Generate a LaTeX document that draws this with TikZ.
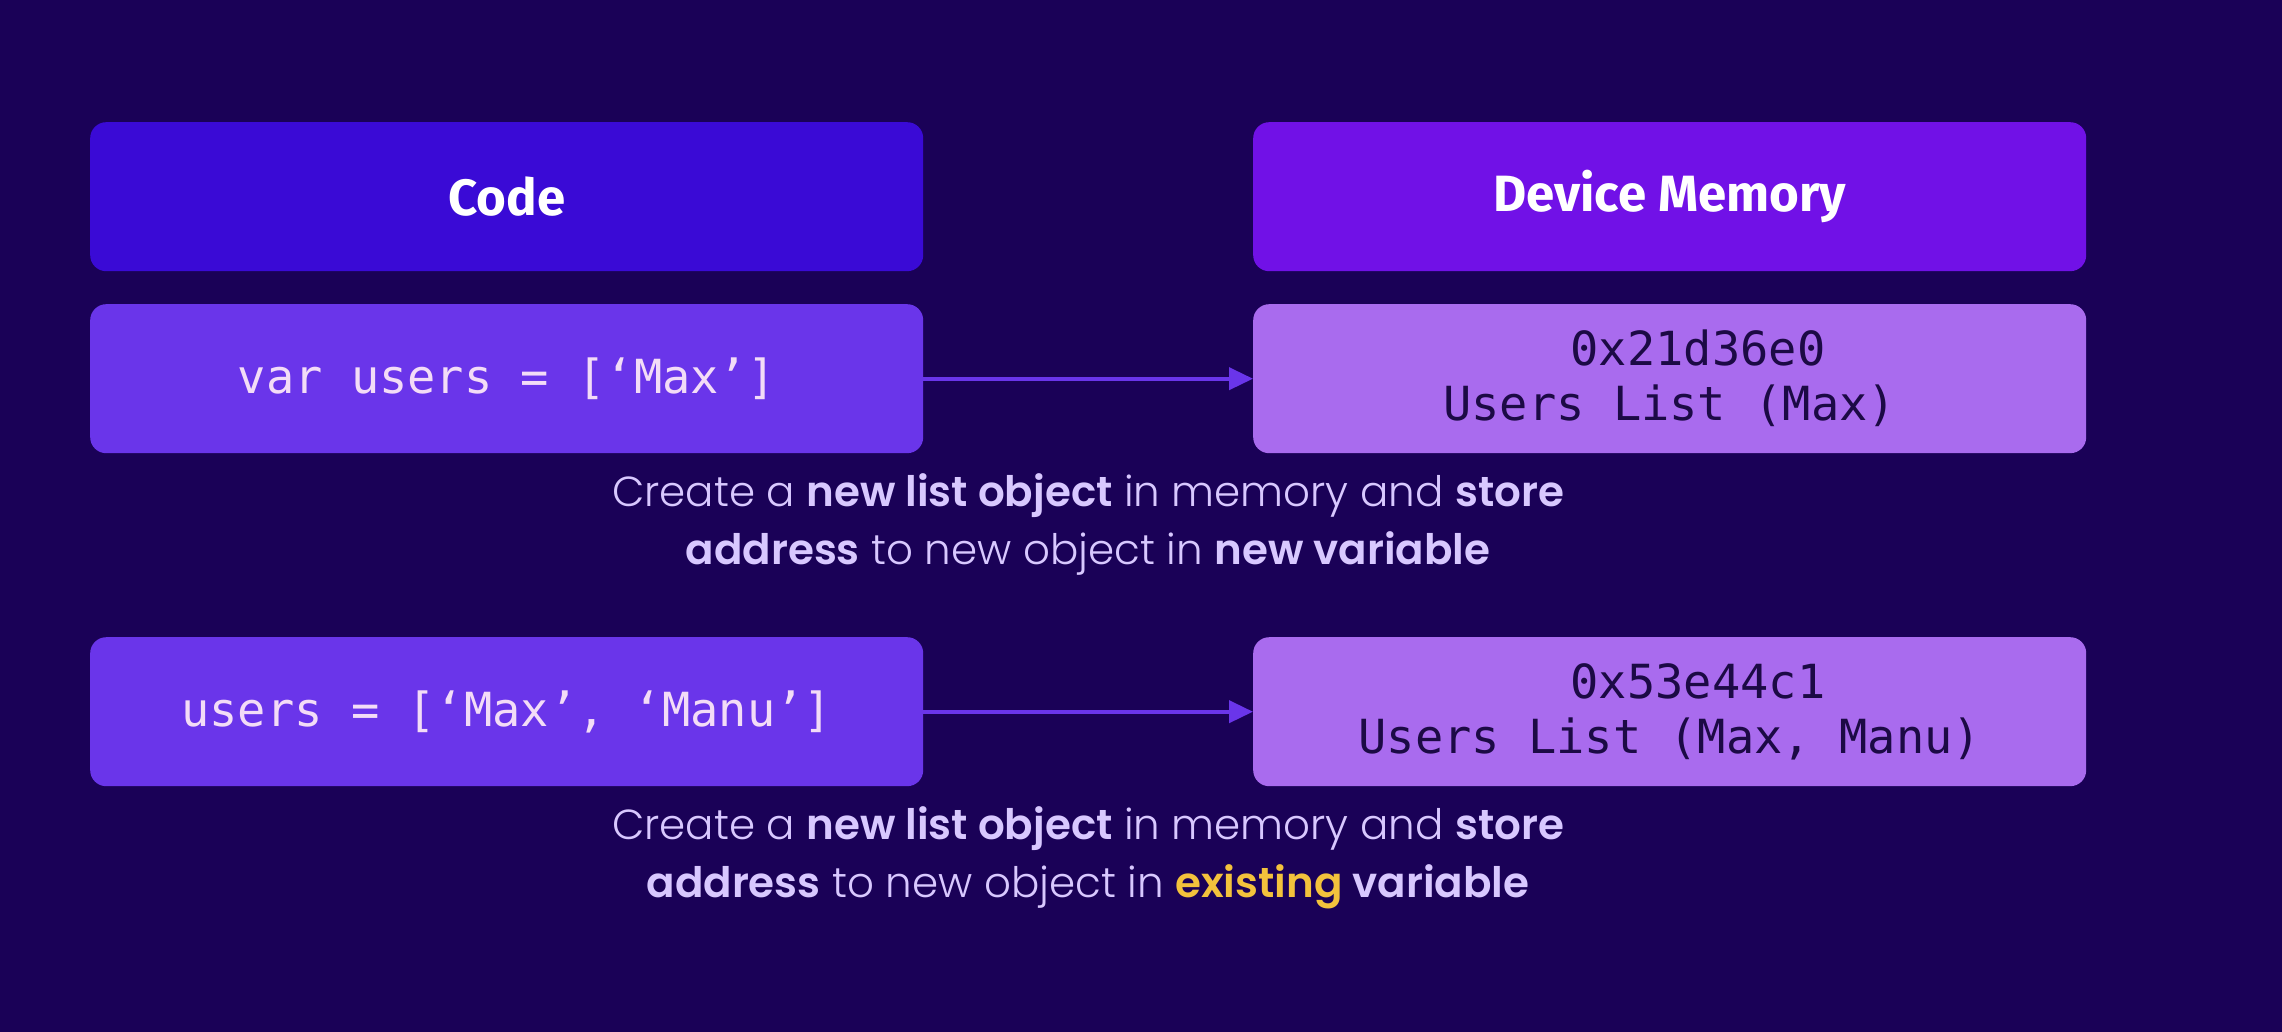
\documentclass[tikz,border=0pt]{standalone}
\usepackage{fontspec}
\usetikzlibrary{arrows.meta}
\newfontfamily\capfont{Poppins Light}[BoldFont={Poppins SemiBold}]
\newfontfamily\headfont{Fira Sans}
\newfontfamily\codefont{DejaVu Sans Mono}

\definecolor{bgcol}{HTML}{1A0157}
\definecolor{headcode}{HTML}{3A0AD6}
\definecolor{headmem}{HTML}{7111E7}
\definecolor{codebox}{HTML}{6A35EA}
\definecolor{membox}{HTML}{A96BEE}
\definecolor{codetxt}{HTML}{F3DCF7}
\definecolor{memtxt}{HTML}{1C0A45}
\definecolor{captxt}{HTML}{D8C8FF}
\definecolor{hilite}{HTML}{F3C23C}

\begin{document}
\begin{tikzpicture}[x=1pt,y=-1pt,
  panel/.style={anchor=north west, minimum width=833pt, minimum height=149pt,
    rounded corners=16pt, inner sep=0pt},
  header/.style={panel, text=white, font=\headfont\bfseries\fontsize{51}{55}\selectfont},
  codecell/.style={panel, fill=codebox, text=codetxt, font=\codefont\fontsize{47}{55}\selectfont},
  memcell/.style={panel, fill=membox, text=memtxt, align=center, font=\codefont\fontsize{47}{55}\selectfont},
  caption/.style={text=captxt, align=center, font=\capfont\fontsize{42}{58}\selectfont},
  link/.style={draw=codebox, line width=4pt, -{Triangle[length=24pt,width=22pt]}}]

  % background
  \fill[bgcol] (0,0) rectangle (2282,1032);
  \useasboundingbox (0,0) rectangle (2282,1032);

  % column headers
  \node[header, fill=headcode] (hcode) at (90,122) {Code};
  \node[header, fill=headmem] (hmem) at (1253,122) {Device Memory};

  % first assignment
  \node[codecell] (c1) at (90,304) {var users = [‘Max’]};
  \node[memcell] (m1) at (1253,304) {\phantom{00}0x21d36e0\\Users List (Max)};
  \draw[link] (c1.east) -- (m1.west);
  \node[caption] (t1) at (1088,524) {Create a \textbf{new list object} in memory and \textbf{store}\\
    \textbf{address} to new object in \textbf{new variable}};

  % second assignment
  \node[codecell] (c2) at (90,637) {users = [‘Max’, ‘Manu’]};
  \node[memcell] (m2) at (1253,637) {\phantom{00}0x53e44c1\\Users List (Max, Manu)};
  \draw[link] (c2.east) -- (m2.west);
  \node[caption] (t2) at (1088,858) {Create a \textbf{new list object} in memory and \textbf{store}\\
    \textbf{address} to new object in \textbf{\textcolor{hilite}{existing} variable}};
\end{tikzpicture}
\end{document}
